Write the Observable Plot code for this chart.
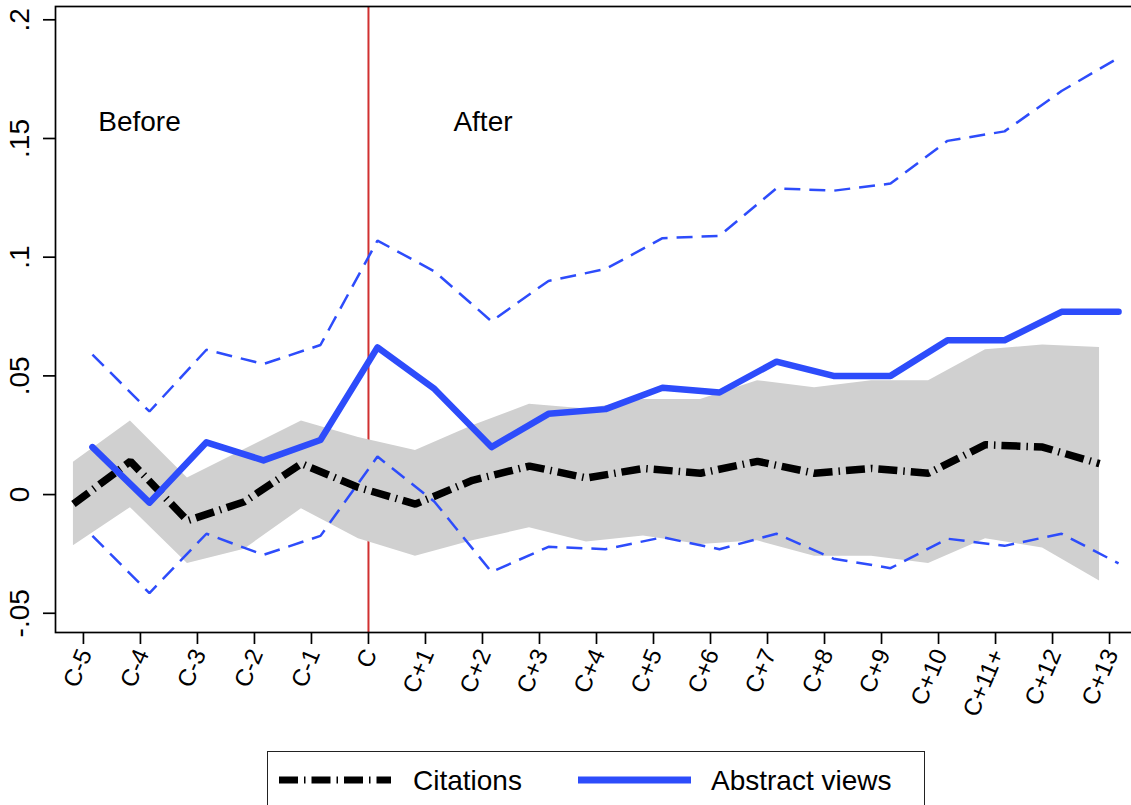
<!DOCTYPE html>
<html><head><meta charset="utf-8">
<script src="https://cdn.jsdelivr.net/npm/d3@7"></script>
<script src="https://cdn.jsdelivr.net/npm/@observablehq/plot@0.6"></script>
<style>
html,body{margin:0;padding:0;background:#fff;overflow:hidden;}
#chart{position:relative;width:1131px;height:805px;font-family:"Liberation Sans",Arial,Helvetica,sans-serif;}
#legend{position:absolute;left:267px;top:751px;width:658px;height:56px;border:1.5px solid #222;box-sizing:border-box;background:#fff;}
#legend svg{position:absolute;}
#legend .lab{position:absolute;font-size:28px;line-height:28px;color:#000;white-space:nowrap;}
</style>
</head><body>
<div id="chart"></div>
<script>
// ---- data ----
const periods = [-5,-4,-3,-2,-1,0,1,2,3,4,5,6,7,8,9,10,11,12,13];
const periodLabels = ["C-5","C-4","C-3","C-2","C-1","C","C+1","C+2","C+3","C+4","C+5","C+6","C+7","C+8","C+9","C+10","C+11+","C+12","C+13"];

const citations   = [-0.004, 0.014, -0.011, -0.003, 0.013, 0.003, -0.004, 0.006, 0.012, 0.007, 0.011, 0.009, 0.014, 0.009, 0.011, 0.009, 0.021, 0.020, 0.013];
const citationsLo = [-0.0216, -0.0055, -0.029, -0.023, -0.006, -0.0186, -0.026, -0.0195, -0.014, -0.020, -0.0174, -0.021, -0.0195, -0.026, -0.026, -0.029, -0.0186, -0.0225, -0.0364];
const citationsHi = [0.0136, 0.031, 0.007, 0.019, 0.031, 0.024, 0.0186, 0.029, 0.038, 0.036, 0.040, 0.040, 0.048, 0.045, 0.048, 0.048, 0.061, 0.063, 0.062];

const views   = [0.020, -0.0034, 0.022, 0.0144, 0.023, 0.062, 0.0445, 0.020, 0.034, 0.036, 0.045, 0.043, 0.056, 0.050, 0.050, 0.065, 0.065, 0.077, 0.077];
const viewsLo = [-0.0174, -0.0415, -0.0165, -0.0254, -0.0174, 0.016, -0.003, -0.0326, -0.022, -0.023, -0.018, -0.023, -0.0165, -0.027, -0.031, -0.0186, -0.0216, -0.0165, -0.029];
const viewsHi = [0.059, 0.035, 0.061, 0.055, 0.063, 0.107, 0.094, 0.073, 0.090, 0.095, 0.108, 0.109, 0.129, 0.128, 0.131, 0.149, 0.153, 0.170, 0.184];

const yTicks = [-0.05, 0, 0.05, 0.1, 0.15, 0.2];
const yTickLabels = ["-.05", "0", ".05", ".1", ".15", ".2"];

const eventPeriod = [0];
const notes = [{text: "Before", x: -4.74, y: 0.157}, {text: "After", x: 1.49, y: 0.157}];

const seriesNames = ["Citations", "Abstract views"];

// ---- tables ----
const cit = periods.map((p, i) => ({p, v: citations[i], lo: citationsLo[i], hi: citationsHi[i]}));
const abs = periods.map((p, i) => ({p, v: views[i], lo: viewsLo[i], hi: viewsHi[i]}));

const BLUE = "#2d4cfb";
const FONT = "'Liberation Sans', Arial, Helvetica, sans-serif";
const DASHDOT = "19,6,1.5,6";

const chart = Plot.plot({
  width: 1131,
  height: 740,
  marginLeft: 55,
  marginRight: -2,
  marginTop: 6,
  marginBottom: 108,
  x: {type: "linear", domain: [-5.49, 13.42], label: null},
  y: {domain: [-0.0581, 0.2056], label: null},
  style: {fontFamily: FONT, background: "white", color: "black"},
  marks: [
    Plot.ruleX(eventPeriod, {x: d => d, stroke: "#d03030", strokeWidth: 2}),
    Plot.areaY(cit, {x: "p", y1: "lo", y2: "hi", fill: "#d0d0d0", dx: -10}),
    Plot.lineY(abs, {x: "p", y: "hi", stroke: BLUE, strokeWidth: 2.5, strokeDasharray: "16,9", strokeLinecap: "butt", strokeLinejoin: "miter", dx: 9}),
    Plot.lineY(abs, {x: "p", y: "lo", stroke: BLUE, strokeWidth: 2.5, strokeDasharray: "16,9", strokeLinecap: "butt", strokeLinejoin: "miter", dx: 9}),
    Plot.lineY(cit, {x: "p", y: "v", stroke: "black", strokeWidth: 7.5, strokeDasharray: DASHDOT, strokeLinecap: "butt", strokeLinejoin: "miter", dx: -10}),
    Plot.lineY(abs, {x: "p", y: "v", stroke: BLUE, strokeWidth: 6.5, strokeLinecap: "round", strokeLinejoin: "round", dx: 9}),
    Plot.text(notes, {x: "x", y: "y", text: "text", textAnchor: "start", lineAnchor: "middle", fontSize: 28, fill: "black"}),
    Plot.frame({stroke: "black", strokeWidth: 1.7}),
    Plot.axisX({ticks: periods, tickSize: 12, tickFormat: () => "", strokeWidth: 1.7, label: null}),
    Plot.axisY({ticks: yTicks, tickSize: 12, tickFormat: () => "", strokeWidth: 1.7, label: null}),
    Plot.text(periods, {x: d => d, text: (d, i) => periodLabels[i], frameAnchor: "bottom", rotate: -67, textAnchor: "end", lineAnchor: "middle", dy: 18, dx: 2, fontSize: 24, fill: "black"}),
    Plot.text(yTicks, {y: d => d, text: (d, i) => yTickLabels[i], frameAnchor: "left", dx: -35, rotate: -90, textAnchor: "middle", lineAnchor: "middle", fontSize: 28, fill: "black"})
  ]
});

const root = document.getElementById("chart");
root.appendChild(chart);

// ---- legend ----
const legend = document.createElement("div");
legend.id = "legend";
legend.innerHTML = `
  <svg style="left:11px;top:21px" width="112" height="14"><line x1="0" y1="7" x2="112" y2="7" stroke="black" stroke-width="7" stroke-dasharray="${DASHDOT}"/></svg>
  <div class="lab" style="left:145px;top:15px">${seriesNames[0]}</div>
  <svg style="left:310px;top:21px" width="113" height="14"><line x1="0" y1="7" x2="113" y2="7" stroke="${BLUE}" stroke-width="7"/></svg>
  <div class="lab" style="left:443px;top:15px">${seriesNames[1]}</div>`;
root.appendChild(legend);
</script>
</body></html>
